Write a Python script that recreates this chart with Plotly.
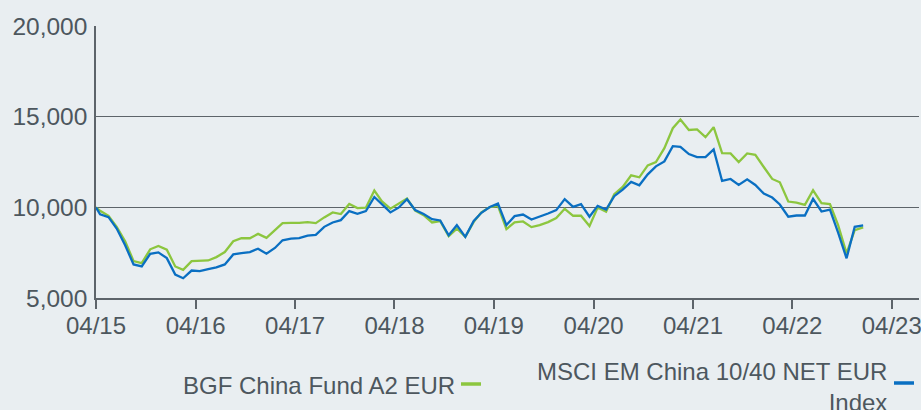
import pandas as pd
import plotly.graph_objects as go

# Dates: start point, then month-ends
start_date = ["2015-04-15"]
month_ends = [d.strftime("%Y-%m-%d") for d in pd.date_range("2015-04-30", "2022-12-31", freq="ME")]
dates = start_date + month_ends

fund_name = "BGF China Fund A2 EUR"
index_name = "MSCI EM China 10/40 NET EUR<br>Index"

fund_values = [
    10000, 9810, 9535, 8925, 8130, 7035, 6925, 7685, 7870, 7665,
    6740, 6555, 7035, 7035, 7070, 7255, 7535, 8130, 8295, 8295,
    8535, 8315, 8740, 9130, 9145, 9140, 9185, 9130, 9445, 9720,
    9630, 10185, 9960, 9980, 10925, 10330, 9925, 10200, 10480, 9815,
    9570, 9165, 9240, 8405, 8830, 8370, 9200, 9720, 10015, 10080,
    8800, 9165, 9220, 8910, 9020, 9185, 9405, 9920, 9535, 9535,
    8965, 9990, 9755, 10725, 11125, 11765, 11655, 12315, 12500, 13265,
    14365, 14840, 14265, 14300, 13870, 14420, 12990, 12975, 12500, 12975,
    12900, 12225, 11565, 11380, 10320, 10265, 10135, 10940, 10230, 10175,
    9020, 7465, 8745, 8895,
]

index_values = [
    10000, 9610, 9460, 8830, 7905, 6850, 6740, 7440, 7515, 7200,
    6295, 6090, 6515, 6480, 6590, 6685, 6850, 7405, 7480, 7535,
    7720, 7440, 7760, 8185, 8275, 8300, 8445, 8480, 8925, 9165,
    9295, 9795, 9645, 9795, 10570, 10145, 9720, 9980, 10445, 9850,
    9630, 9350, 9275, 8460, 9015, 8370, 9255, 9700, 10015, 10205,
    9020, 9515, 9605, 9330, 9480, 9660, 9845, 10450, 10025, 10175,
    9480, 10080, 9880, 10615, 10980, 11400, 11215, 11820, 12260, 12535,
    13375, 13340, 12940, 12770, 12770, 13195, 11455, 11565, 11235, 11545,
    11235, 10760, 10540, 10155, 9480, 9550, 9550, 10465, 9770, 9880,
    8600, 7190, 8930, 9005,
]

tick_dates = ["2015-04-15", "2016-04-15", "2017-04-15", "2018-04-15", "2019-04-15",
              "2020-04-15", "2021-04-15", "2022-04-15", "2023-04-15"]
tick_labels = ["04/15", "04/16", "04/17", "04/18", "04/19", "04/20", "04/21", "04/22", "04/23"]
y_ticks = [5000, 10000, 15000, 20000]

GREEN = "#8cc63f"
BLUE = "#0a6fc2"
TEXT = "#4d575e"
GRID = "#5d646a"
BG = "#e9eef1"

fig = go.Figure()
fig.add_trace(go.Scatter(x=dates, y=fund_values, mode="lines", name=fund_name,
                         line=dict(color=GREEN, width=2.3), showlegend=False))
fig.add_trace(go.Scatter(x=dates, y=index_values, mode="lines", name=index_name,
                         line=dict(color=BLUE, width=2.3), showlegend=False))

L, R, T, B = 96, 919, 26, 298
W, H = 921, 410
pw, ph = R - L, B - T

def px(x):
    return (x - L) / pw

def py(y):
    return (B - y) / ph

fig.update_layout(
    width=W, height=H,
    margin=dict(l=L, r=W - R, t=T, b=H - B, pad=0, autoexpand=False),
    paper_bgcolor=BG, plot_bgcolor=BG,
    font=dict(family="Liberation Sans, Arial, sans-serif", size=24, color=TEXT),
    xaxis=dict(
        type="date", automargin=False,
        range=["2015-04-15", "2023-07-24"],
        tickvals=tick_dates, ticktext=tick_labels,
        showgrid=False, zeroline=False,
        showline=True, linecolor=GRID, linewidth=1.5,
        ticks="outside", ticklen=9, tickwidth=1.5, tickcolor=GRID,
        ticklabelstandoff=-4, ticklabeloverflow="allow",
        tickfont=dict(size=24, color=TEXT),
    ),
    yaxis=dict(
        range=[5000, 20000], automargin=False,
        tickvals=y_ticks, tickformat=",",
        showgrid=True, gridcolor=GRID, gridwidth=1.2,
        zeroline=False,
        showline=True, linecolor=GRID, linewidth=1.5,
        ticks="", ticklabelstandoff=2,
        tickfont=dict(size=24.5, color=TEXT),
    ),
    annotations=[
        dict(text=fund_name, xref="paper", yref="paper",
             x=px(457), y=py(385), xanchor="right", yanchor="middle",
             showarrow=False, align="right",
             font=dict(size=24, color=TEXT)),
        dict(text=index_name, xref="paper", yref="paper",
             x=px(889), y=py(387), xanchor="right", yanchor="middle",
             showarrow=False, align="right",
             font=dict(size=24, color=TEXT)),
    ],
    shapes=[
        dict(type="line", xref="paper", yref="paper",
             x0=px(461), x1=px(481), y0=py(384), y1=py(384),
             line=dict(color=GREEN, width=3.5)),
        dict(type="line", xref="paper", yref="paper",
             x0=px(894), x1=px(914), y0=py(383), y1=py(383),
             line=dict(color=BLUE, width=3.5)),
    ],
)

fig.write_html(
    "out.html",
    config={"displayModeBar": False},
    post_script="document.body.style.margin='0';document.body.style.padding='0';",
)
